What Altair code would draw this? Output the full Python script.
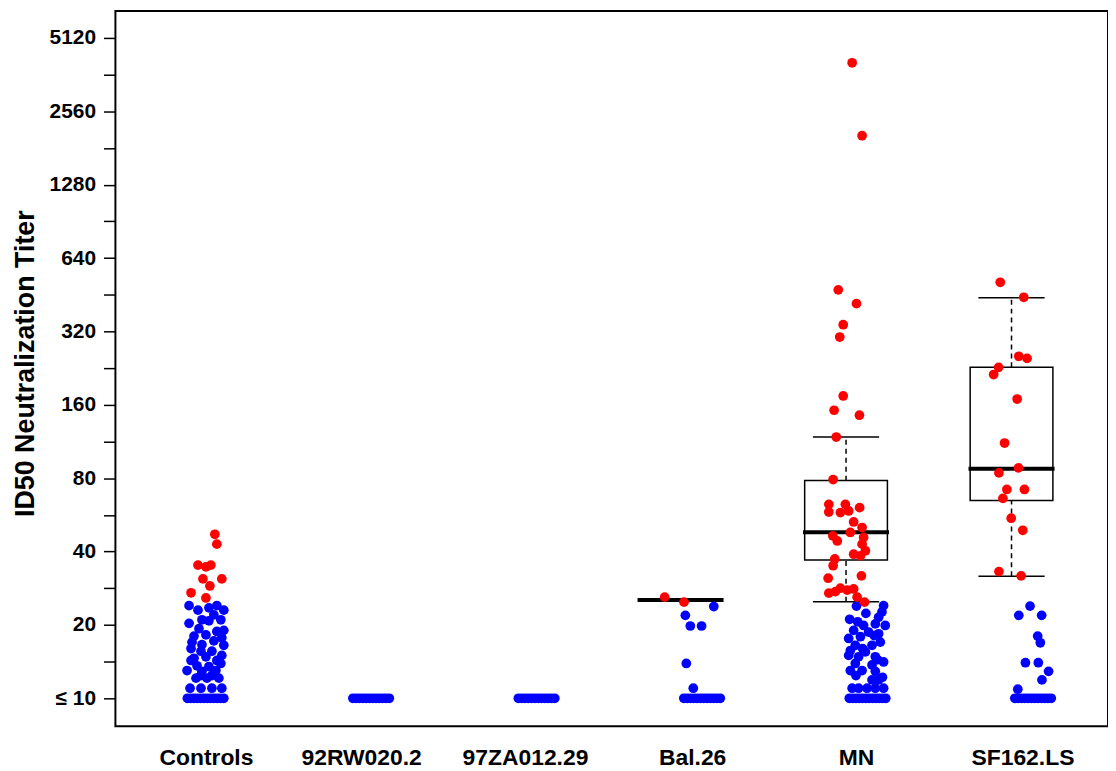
import altair as alt
import pandas as pd

# ---------------- data ----------------
categories = ["Controls", "92RW020.2", "97ZA012.29", "Bal.26", "MN", "SF162.LS"]
label_pos = [1.132, 2.07, 3.06, 4.07, 5.06, 6.066]

major_ticks = [10, 20, 40, 80, 160, 320, 640, 1280, 2560, 5120]

# subjects at the detection limit (<=10), jitter offsets
floor_jitter = [0.02, 0.04, 0.06, 0.08, 0.10, 0.12, 0.14, 0.16, 0.18, 0.20, 0.22, 0.24]

ctrl_red_val = [47.1, 42.9, 35.2, 34.6, 35.2, 30.9, 30.9, 28.9, 27.1, 25.8]
ctrl_red_jit = [0.186, 0.198, 0.084, 0.132, 0.162, 0.114, 0.228, 0.156, 0.042, 0.132]
ctrl_blue_val = [24, 23, 23.5, 24, 23, 22, 21, 21, 20.3, 20.8, 19.3, 19, 18.8, 18, 18.2,
                 17.7, 17, 16.6, 17.2, 16.5, 16, 15.6, 15.6, 15, 14.6, 14.8, 14.3, 13, 13.6,
                 13.5, 13.9, 14.3, 12.9, 13, 12.1, 12.1, 12.1, 12.4, 12.4, 11, 11, 11, 11]
ctrl_blue_jit = [0.030, 0.084, 0.150, 0.198, 0.240, 0.180, 0.108, 0.222, 0.030, 0.150,
                 0.090, 0.240, 0.198, 0.060, 0.132, 0.228, 0.048, 0.108, 0.180, 0.240,
                 0.042, 0.102, 0.168, 0.228, 0.060, 0.132, 0.198, 0.018, 0.078, 0.150,
                 0.222, 0.042, 0.108, 0.192, 0.072, 0.138, 0.210, 0.102, 0.168, 0.036,
                 0.102, 0.168, 0.228]

bal_red_val = [26.0, 24.8]
bal_red_jit = [-0.096, 0.021]
bal_blue_val = [23.8, 21.9, 19.8, 19.8, 13.9, 11.0]
bal_blue_jit = [0.201, 0.029, 0.059, 0.127, 0.035, 0.077]

mn_red_val = [4048, 2033, 474, 416, 341, 303.5, 174, 152, 145, 118, 79, 62.5, 62.5, 60.6,
              58.1, 57.8, 58.7, 52.9, 50.2, 47.9, 46.4, 44.2, 45.7, 42.9, 40.3, 39.0, 38.4,
              37.3, 35.0, 31.1, 31.8, 27.0, 27.4, 28.3, 27.8, 28.1, 26.0, 24.8]
mn_red_jit = [0.037, 0.097, -0.047, 0.063, -0.017, -0.038, -0.017, -0.072, 0.081, -0.059,
              -0.078, -0.104, -0.004, 0.082, -0.104, -0.034, 0.016, 0.046, 0.097, 0.026,
              -0.080, -0.053, 0.106, 0.097, 0.117, 0.046, 0.087, -0.068, -0.078, -0.108,
              0.093, -0.104, -0.064, -0.034, 0.007, 0.046, 0.067, 0.112]
mn_blue_val = [24.0, 23.9, 22.6, 21.5, 21.1, 19.9, 19.9, 20.2, 19.0, 18.7, 18.4, 17.6, 17.9,
               17.0, 16.5, 16.5, 15.7, 15.5, 15.0, 14.8, 14.8, 14.1, 13.9, 13.7, 13.0, 13.0,
               12.9, 11.9, 11.9, 11.0, 11.0, 11.0, 11.0, 11.0,
               22.3, 20.6, 18.1, 16.0, 14.4, 12.4, 12.2]
mn_blue_jit = [0.227, 0.063, 0.217, 0.197, 0.022, 0.106, 0.237, 0.177, 0.046, 0.136, 0.197,
               0.016, 0.087, 0.207, 0.056, 0.157, 0.026, 0.117, 0.016, 0.076, 0.177, 0.227,
               0.056, 0.157, 0.026, 0.097, 0.177, 0.157, 0.197, 0.076, 0.127, 0.177, 0.227,
               0.037,
               0.12, 0.07, 0.17, 0.10, 0.19, 0.06, 0.22]

sf_red_val = [509, 442, 253, 248, 228, 213, 169, 111.5, 88.2, 84.1, 71.9, 71.9, 66.1, 54.8,
              48.9, 33.1, 31.8]
sf_red_jit = [-0.068, 0.074, 0.044, 0.094, -0.078, -0.108, 0.034, -0.042, 0.042, -0.076,
              -0.028, 0.078, -0.052, -0.002, 0.068, -0.076, 0.058]
sf_blue_val = [23.9, 21.9, 21.9, 18.0, 16.9, 14.0, 14.0, 12.9, 11.9, 10.9]
sf_blue_jit = [0.112, 0.044, 0.182, 0.158, 0.174, 0.084, 0.162, 0.224, 0.184, 0.038]

# box plot statistics (Bal.26, MN, SF162.LS)
box_group = [4, 5, 6]
box_lo = [25.3, 24.9, 31.7]
box_q1 = [25.3, 36.9, 64.8]
box_med = [25.3, 48.0, 87.5]
box_q3 = [25.3, 78.2, 228.0]
box_hi = [25.3, 118.0, 440.0]

# ---------------- tables ----------------
rows = []


def add(k, vals, jits, status):
    assert len(vals) == len(jits)
    for v, j in zip(vals, jits):
        rows.append({"pos": k + j, "titer": v, "status": status})


for k in range(1, 7):
    add(k, [10] * len(floor_jitter), floor_jitter, "neg")
add(1, ctrl_blue_val, ctrl_blue_jit, "neg")
add(1, ctrl_red_val, ctrl_red_jit, "pos")
add(4, bal_blue_val, bal_blue_jit, "neg")
add(4, bal_red_val, bal_red_jit, "pos")
add(5, mn_blue_val, mn_blue_jit, "neg")
add(5, mn_red_val, mn_red_jit, "pos")
add(6, sf_blue_val, sf_blue_jit, "neg")
add(6, sf_red_val, sf_red_jit, "pos")
pts = pd.DataFrame(rows)

box = pd.DataFrame({"k": box_group, "lo": box_lo, "q1": box_q1, "med": box_med,
                    "q3": box_q3, "hi": box_hi})
box["xl"] = box["k"] - 0.25
box["xr"] = box["k"] + 0.25
box["cl"] = box["k"] - 0.2
box["cr"] = box["k"] + 0.2
box["ml"] = box["k"] - 0.26
box["mr"] = box["k"] + 0.26

# ---------------- scales / axes ----------------
FONT = "Liberation Sans"
xs = alt.Scale(domain=[0.585, 6.583], nice=False, zero=False)
ys = alt.Scale(type="log", base=2, domain=[7.686, 6600], nice=False)

minor_ticks = [(a * b) ** 0.5 for a, b in zip(major_ticks[:-1], major_ticks[1:])]
major_js = "[" + ",".join(str(v) for v in major_ticks) + "]"
cat_js = "[" + ",".join("'" + c + "'" for c in categories) + "]"

x_axis = alt.Axis(values=label_pos, labelExpr=cat_js + "[round(datum.value) - 1]",
                  ticks=False, domain=False, grid=False, title=None,
                  labelFont=FONT, labelFontWeight="bold", labelFontSize=23,
                  labelColor="black", labelPadding=21, labelOverlap=False)
y_axis = alt.Axis(values=major_ticks + minor_ticks,
                  labelExpr="indexof(" + major_js + ", datum.value) >= 0 ? "
                            "(datum.value == 10 ? '≤ 10' : format(datum.value, 'd')) : ''",
                  tickSize=12, tickWidth=1.5, tickColor="black", domain=False, grid=False,
                  labelFont=FONT, labelFontWeight="bold", labelFontSize=21,
                  labelColor="black", labelPadding=8, labelOverlap=False,
                  title="ID50 Neutralization Titer", titleFont=FONT, titleFontWeight="bold",
                  titleFontSize=27, titleColor="black", titleX=-90, titleY=354,
                  titleAngle=270, titleAlign="center", titleBaseline="middle")

X = lambda f: alt.X(f, scale=xs, axis=x_axis)
Y = lambda f: alt.Y(f, scale=ys, axis=y_axis)

whisk_hi = alt.Chart(box).mark_rule(color="black", strokeWidth=1.5, strokeDash=[5, 4]).encode(
    x=X("k:Q"), y=Y("q3:Q"), y2="hi:Q")
whisk_lo = alt.Chart(box).mark_rule(color="black", strokeWidth=1.5, strokeDash=[5, 4]).encode(
    x=X("k:Q"), y=Y("lo:Q"), y2="q1:Q")
cap_hi = alt.Chart(box).mark_rule(color="black", strokeWidth=1.5).encode(
    x=X("cl:Q"), x2="cr:Q", y=Y("hi:Q"))
cap_lo = alt.Chart(box).mark_rule(color="black", strokeWidth=1.5).encode(
    x=X("cl:Q"), x2="cr:Q", y=Y("lo:Q"))
rect = alt.Chart(box).mark_rect(fillOpacity=0, stroke="black", strokeWidth=1.5).encode(
    x=X("xl:Q"), x2="xr:Q", y=Y("q1:Q"), y2="q3:Q")
median = alt.Chart(box).mark_rule(color="black", strokeWidth=4).encode(
    x=X("ml:Q"), x2="mr:Q", y=Y("med:Q"))
points = alt.Chart(pts).mark_circle(size=96, opacity=1).encode(
    x=X("pos:Q"), y=Y("titer:Q"),
    color=alt.Color("status:N", scale=alt.Scale(domain=["pos", "neg"],
                                                range=["#FF0000", "#0000FF"]), legend=None))

chart = alt.layer(whisk_hi, whisk_lo, cap_hi, cap_lo, rect, median, points).properties(
    width=998, height=719,
    padding={"left": 108, "top": 1, "right": 0, "bottom": 46},
    autosize=alt.AutoSizeParams(type="none"),
    background="white",
).configure_view(stroke="black", strokeWidth=2)

chart.save("out.html", embed_options={"renderer": "svg", "actions": False})
